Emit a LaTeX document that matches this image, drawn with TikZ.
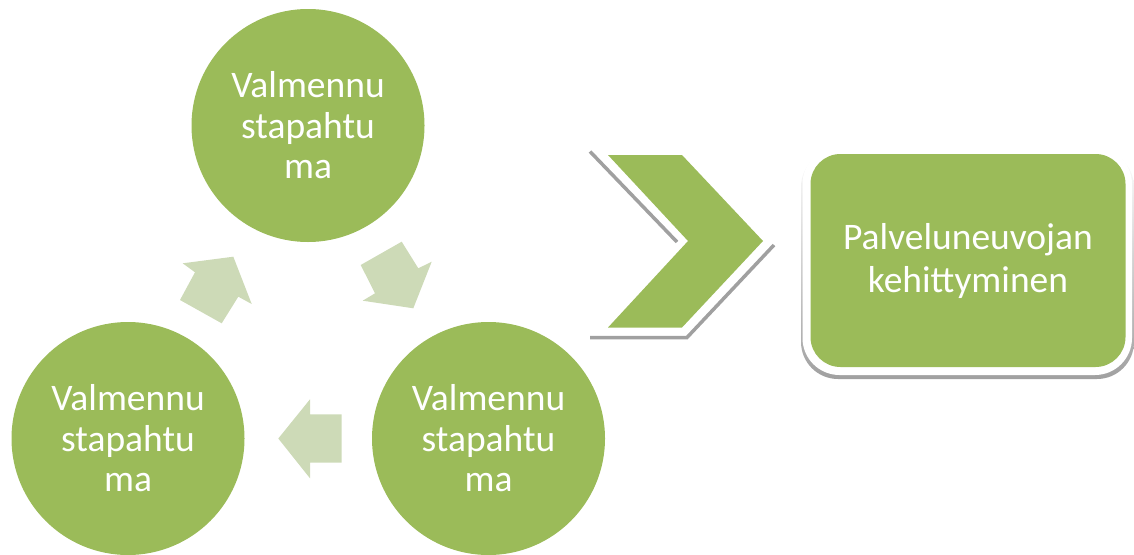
\documentclass[tikz,border=0pt]{standalone}
\usepackage{fontspec}
\setmainfont{Carlito}
\definecolor{leaf}{RGB}{155,187,89}
\definecolor{paleleaf}{RGB}{205,218,183}
\definecolor{edgegray}{RGB}{160,160,160}
\begin{document}
\begin{tikzpicture}[x=1pt,y=-1pt,
  stage/.style={circle,fill=leaf,minimum size=233,inner sep=0pt,text=white,
    align=center,font=\fontsize{37.5}{40.5}\selectfont},
  cyclearrow/.style={fill=paleleaf},
  outcome/.style={rounded corners=30pt,fill=leaf,minimum width=315,minimum height=213,
    inner sep=0pt,text=white,align=center,font=\fontsize{37.5}{43}\selectfont},
  rim/.style={draw=edgegray,line width=3.5pt}]
\useasboundingbox (0,0) rectangle (1134,554);

% three event circles
\node[stage] (top) at (308,125.5) {Valmennu\\stapahtu\\ma};
\node[stage] (left) at (128,438.5) {Valmennu\\stapahtu\\ma};
\node[stage] (right) at (488.5,438.5) {Valmennu\\stapahtu\\ma};

% block arrows of the cycle
\fill[cyclearrow] (182.7,263.3) -- (233.3,256.7) -- (251.7,304) -- (238.3,296.7)
  -- (221.7,323.3) -- (180,300) -- (195,272.3) -- cycle;
\fill[cyclearrow] (360.7,265) -- (401.7,241.7) -- (418.3,268.3) -- (431.7,261.7)
  -- (413.3,308.3) -- (362.7,300.7) -- (375,293.3) -- cycle;
\fill[cyclearrow] (341.7,414.3) -- (310,414.3) -- (310,399.3) -- (278.3,438.5)
  -- (310,478.3) -- (310,462.7) -- (341.7,462.7) -- cycle;

% chevron with its grey edges
\draw[rim] (590,151.5) -- (677,242);
\draw[rim] (590,337.5) -- (687,337.5) -- (774,245);
\fill[leaf] (608,155) -- (682,155) -- (763,241) -- (682,327.5) -- (608,327.5)
  -- (688,241) -- cycle;

% result box: shadow, white frame, green face
\shade[top color=white,bottom color=edgegray,rounded corners=37pt]
  (801,150) rectangle (1134,379);
\fill[white,rounded corners=37pt] (802.5,147) rectangle (1132,375);
\node[outcome] (result) at (968,260.5) {Palveluneuvojan\\kehittyminen};
\end{tikzpicture}
\end{document}
